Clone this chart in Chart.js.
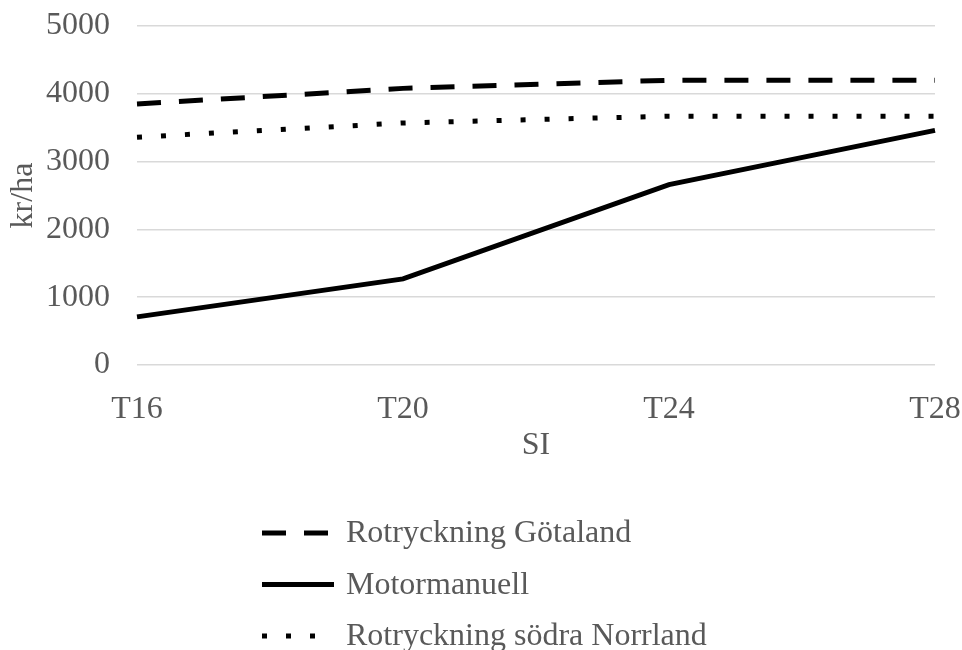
<!DOCTYPE html>
<html>
<head>
<meta charset="utf-8">
<script src="https://cdn.jsdelivr.net/npm/chart.js@4.4.1/dist/chart.umd.min.js"></script>
<style>
  body { margin: 0; background: #fff; }
  #wrap { width: 962px; height: 650px; }
</style>
</head>
<body>
<div id="wrap"><canvas id="costChart"></canvas></div>
<script>
// SI classes on the x axis
const categories = ['T16', 'T20', 'T24', 'T28'];

// kr/ha per series
const rotryckningGotaland = [3850, 4080, 4200, 4200];
const motormanuell = [710, 1270, 2660, 3460];
const rotryckningNorrland = [3360, 3570, 3670, 3670];

const seriesNames = ['Rotryckning Götaland', 'Motormanuell', 'Rotryckning södra Norrland'];

const yMin = 0;
const yMax = 5000;
const yStep = 1000;

const textColor = '#595959';
const fontFamily = "'Liberation Serif', 'Times New Roman', serif";
const fontSize = 32;

// draws the vertical legend under the chart
const stackedLegend = {
    id: 'stackedLegend',
    afterDraw(chart, args, opts) {
        const ctx = chart.ctx;
        ctx.save();
        ctx.font = fontSize + 'px ' + fontFamily;
        ctx.textBaseline = 'middle';
        ctx.fillStyle = textColor;
        chart.data.datasets.forEach((ds, i) => {
            const y = opts.top + i * opts.rowGap;
            ctx.beginPath();
            ctx.strokeStyle = ds.borderColor;
            ctx.lineWidth = ds.borderWidth;
            ctx.lineCap = 'butt';
            ctx.setLineDash(ds.borderDash || []);
            ctx.moveTo(opts.left, y);
            ctx.lineTo(opts.left + opts.sampleWidth, y);
            ctx.stroke();
            ctx.setLineDash([]);
            ctx.fillText(ds.label, opts.left + opts.sampleWidth + opts.textGap, y + 1);
        });
        ctx.restore();
    }
};

const ctx = document.getElementById('costChart').getContext('2d');

new Chart(ctx, {
    type: 'line',
    data: {
        labels: categories,
        datasets: [
            {
                label: seriesNames[0],
                data: rotryckningGotaland,
                borderColor: '#000000',
                borderWidth: 5,
                borderDash: [24, 18],
                borderCapStyle: 'butt'
            },
            {
                label: seriesNames[1],
                data: motormanuell,
                borderColor: '#000000',
                borderWidth: 5,
                borderCapStyle: 'butt'
            },
            {
                label: seriesNames[2],
                data: rotryckningNorrland,
                borderColor: '#000000',
                borderWidth: 5,
                borderDash: [5, 19],
                borderCapStyle: 'butt'
            }
        ]
    },
    options: {
        responsive: true,
        maintainAspectRatio: false,
        animation: false,
        elements: {
            line: { tension: 0, fill: false },
            point: { radius: 0, hoverRadius: 0 }
        },
        layout: {
            padding: { top: 0, left: 0, right: 0, bottom: 181 }
        },
        plugins: {
            legend: { display: false },
            tooltip: { enabled: false },
            stackedLegend: {
                left: 262,
                top: 533,
                rowGap: 51.5,
                sampleWidth: 72,
                textGap: 12
            }
        },
        scales: {
            x: {
                offset: false,
                grid: { display: false, drawTicks: false },
                border: { display: false },
                afterFit: (scale) => {
                    scale.height = 104;
                    scale.paddingLeft = 0;
                    scale.paddingRight = 27;
                },
                ticks: {
                    color: textColor,
                    padding: 25,
                    maxRotation: 0,
                    font: { family: fontFamily, size: fontSize }
                },
                title: {
                    display: true,
                    text: 'SI',
                    color: textColor,
                    padding: { top: 4, bottom: 4 },
                    font: { family: fontFamily, size: fontSize }
                }
            },
            y: {
                min: yMin,
                max: yMax,
                grid: { color: '#d9d9d9', lineWidth: 1.5, drawTicks: false },
                border: { display: false },
                afterFit: (scale) => {
                    scale.width = 137;
                    scale.paddingTop = 26;
                    scale.paddingBottom = 0;
                },
                ticks: {
                    stepSize: yStep,
                    color: textColor,
                    padding: 27,
                    font: { family: fontFamily, size: fontSize },
                    callback: (value) => String(value)
                },
                title: {
                    display: true,
                    text: 'kr/ha',
                    color: textColor,
                    padding: { top: 4, bottom: 4 },
                    font: { family: fontFamily, size: fontSize }
                }
            }
        }
    },
    plugins: [stackedLegend]
});
</script>
</body>
</html>
